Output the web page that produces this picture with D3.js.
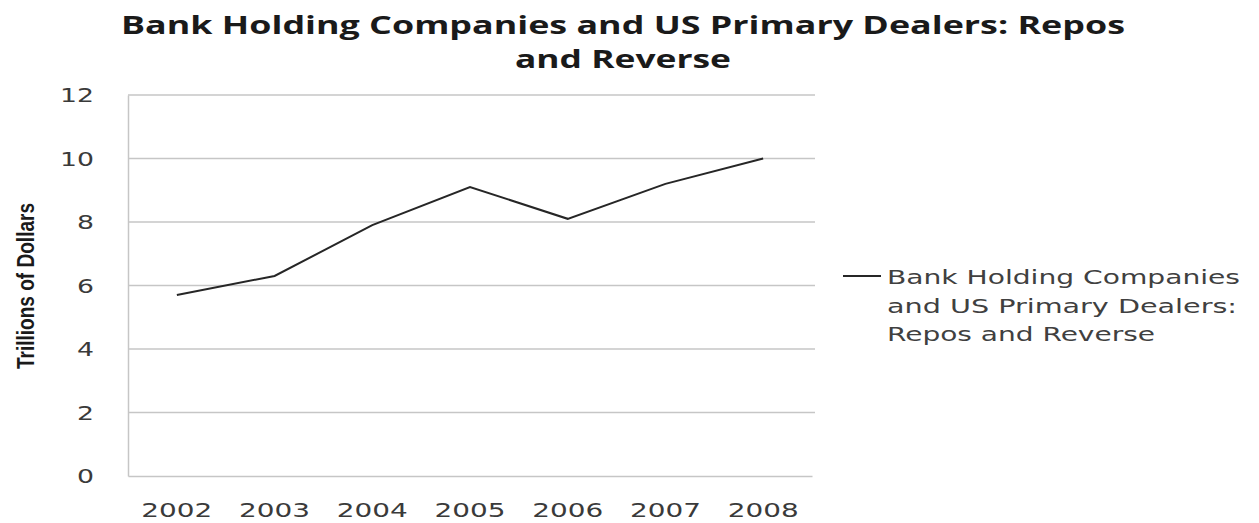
<!DOCTYPE html>
<html><head><meta charset="utf-8">
<script src="https://cdn.jsdelivr.net/npm/d3@7"></script>
<style>body{margin:0;background:#fff}</style>
</head><body>
<script>
const years = ["2002","2003","2004","2005","2006","2007","2008"];
const values = [5.7, 6.3, 7.9, 9.1, 8.1, 9.2, 10.0];
const yTicks = [0, 2, 4, 6, 8, 10, 12];
const titleLines = ["Bank Holding Companies and US Primary Dealers: Repos", "and Reverse"];
const legendLines = ["Bank Holding Companies", "and US Primary Dealers:", "Repos and Reverse"];
const yLabel = "Trillions of Dollars";

// styling: stretched widths matching reference typography
const titleWidths = [1004, 216];
const legendWidths = [353, 350, 268];

const W = 1259, H = 523;
const m = {left: 128, right: 812, top: 95, bottom: 476};
const svg = d3.select("body").append("svg").attr("width", W).attr("height", H);

const x = d3.scaleBand().domain(years).range([m.left, m.right]);
const y = d3.scaleLinear().domain([0, 12]).range([m.bottom, m.top]);

// gridlines
svg.append("g").selectAll("line").data(yTicks.filter(d => d > 0)).join("line")
  .attr("x1", m.left).attr("x2", m.right + 3)
  .attr("y1", d => y(d)).attr("y2", d => y(d))
  .attr("stroke", "#c6c6c6").attr("stroke-width", 1.5);

// axes
const yAxis = svg.append("g").attr("transform", `translate(${m.left},0)`)
  .call(d3.axisLeft(y).tickValues(yTicks).tickSize(0).tickPadding(34));
yAxis.select(".domain").attr("stroke", "#c6c6c6").attr("stroke-width", 1.5);
yAxis.selectAll("text").attr("font-family", "DejaVu Sans").attr("font-size", 19)
  .attr("fill", "#3a3a3a").attr("dy", "0.36em")
  .attr("textLength", d => String(d).length * 17).attr("lengthAdjust", "spacingAndGlyphs");

const xAxis = svg.append("g").attr("transform", `translate(0,${m.bottom})`)
  .call(d3.axisBottom(x).tickSize(0).tickPadding(27));
xAxis.select(".domain").attr("stroke", "#c6c6c6").attr("stroke-width", 1.5);
xAxis.selectAll("text").attr("font-family", "DejaVu Sans").attr("font-size", 20)
  .attr("fill", "#3a3a3a")
  .attr("textLength", 71).attr("lengthAdjust", "spacingAndGlyphs");

// line
const line = d3.line().x((d, i) => x(years[i]) + x.bandwidth() / 2).y(d => y(d));
svg.append("path").datum(values).attr("d", line)
  .attr("fill", "none").attr("stroke", "#262626").attr("stroke-width", 2);

// title
svg.append("g").selectAll("text").data(titleLines).join("text")
  .attr("x", 623).attr("y", (d, i) => 34 + i * 34)
  .attr("text-anchor", "middle")
  .attr("font-family", "Open Sans").attr("font-weight", "bold").attr("font-size", 25)
  .attr("fill", "#1a1a1a")
  .attr("textLength", (d, i) => titleWidths[i]).attr("lengthAdjust", "spacingAndGlyphs")
  .text(d => d);

// y label
svg.append("text").attr("transform", "translate(34,286) rotate(-90)")
  .attr("text-anchor", "middle")
  .attr("font-family", "Liberation Sans Narrow, Liberation Sans").attr("font-weight", "bold")
  .attr("font-size", 23).attr("fill", "#1a1a1a")
  .attr("textLength", 166).attr("lengthAdjust", "spacingAndGlyphs")
  .text(yLabel);

// legend
svg.append("line").attr("x1", 843).attr("x2", 881).attr("y1", 276).attr("y2", 276)
  .attr("stroke", "#262626").attr("stroke-width", 2);
svg.append("g").selectAll("text").data(legendLines).join("text")
  .attr("x", 887).attr("y", (d, i) => 284 + i * 28.5)
  .attr("font-family", "DejaVu Sans").attr("font-size", 20).attr("fill", "#404040")
  .attr("textLength", (d, i) => legendWidths[i]).attr("lengthAdjust", "spacingAndGlyphs")
  .text(d => d);
</script>
</body></html>
